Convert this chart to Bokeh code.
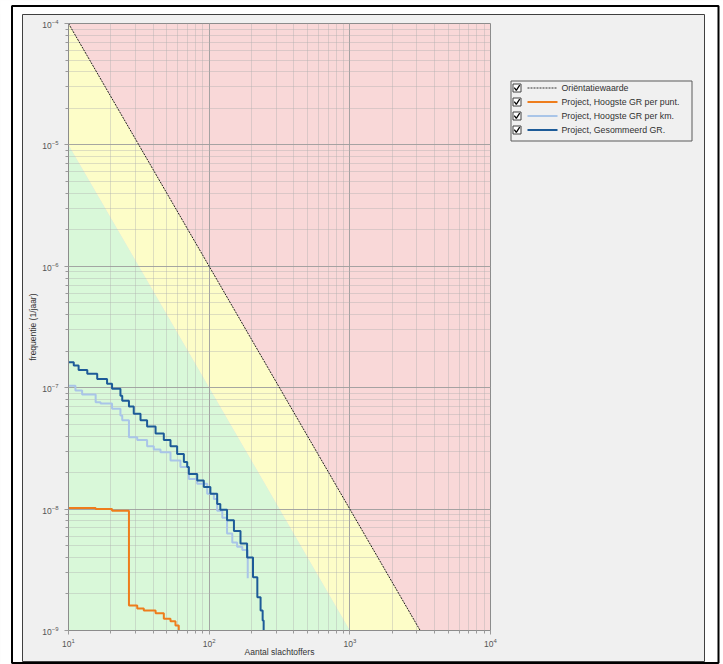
import numpy as np
from bokeh.plotting import figure
from bokeh.models import Range1d, LinearScale, LogTicker
from bokeh.core.properties import value
from bokeh.embed import file_html
from bokeh.resources import INLINE

# ---------------- data ----------------
N_MIN, N_MAX = 10, 1e4          # aantal slachtoffers (x range)
F_MIN, F_MAX = 1e-9, 1e-4       # frequentie (y range)
ORIENT_C = 1e-2                 # oriëntatiewaarde: F = 1e-2 / N^2
LOWER_C = 1e-3                  # ondergrens gele zone: F = 1e-3 / N^2

# Project, Hoogste GR per punt (orange)
punt_N = [10, 15.6, 20.4, 26.9, 30.8, 34.3, 41.6, 47.6, 53.1, 57.6, 60.8]
punt_F = [1.02e-8, 1.0e-8, 9.7e-9, 1.61e-9, 1.52e-9, 1.46e-9, 1.39e-9, 1.25e-9, 1.19e-9, 1.10e-9, 8e-10]

# Project, Hoogste GR per km (light blue)
km_N = [10, 11.2, 12.5, 15.6, 16.9, 20.4, 23.4, 24.1, 26.9, 30.8, 36.2, 40.4, 45.1, 53.1,
        62.5, 71.7, 82.2, 96.8, 108, 114, 124, 134, 146, 158, 172, 188]
km_F = [1.04e-7, 9.5e-8, 8.8e-8, 7.6e-8, 7.4e-8, 6.7e-8, 5.9e-8, 5.4e-8, 3.9e-8, 3.7e-8, 3.3e-8,
        3.1e-8, 2.94e-8, 2.51e-8, 2.22e-8, 1.77e-8, 1.62e-8, 1.34e-8, 1.21e-8, 9.7e-9, 8.5e-9,
        6.3e-9, 5.3e-9, 4.9e-9, 4.6e-9, 2.7e-9]

# Project, Gesommeerd GR (dark blue)
som_N = [10, 10.9, 11.8, 13.6, 16.0, 18.8, 20.4, 23.4, 24.1, 26.9, 29.1, 32.5, 36.2, 41.6, 47.6,
         53.1, 59.2, 66.1, 69.8, 71.7, 82.2, 91.6, 102, 114, 120, 134, 150, 167, 186, 205, 220,
         232, 240, 244]
som_F = [1.62e-7, 1.52e-7, 1.40e-7, 1.30e-7, 1.18e-7, 1.08e-7, 9.8e-8, 8.6e-8, 7.8e-8, 7.0e-8,
         6.1e-8, 5.4e-8, 4.8e-8, 4.2e-8, 3.7e-8, 3.3e-8, 2.85e-8, 2.44e-8, 2.22e-8, 1.95e-8,
         1.72e-8, 1.52e-8, 1.34e-8, 1.10e-8, 9.9e-9, 8.1e-9, 6.6e-9, 5.2e-9, 4.0e-9, 2.75e-9,
         1.88e-9, 1.46e-9, 1.21e-9, 5e-10]

legend_labels = ["Oriëntatiewaarde", "Project, Hoogste GR per punt.",
                 "Project, Hoogste GR per km.", "Project, Gesommeerd GR."]

# ---------------- styles ----------------
FONT = "Liberation Sans"
C_RED, C_YEL, C_GRN = "#f9d8d8", "#fdfdc8", "#d9f8d9"
C_ORANGE, C_LIGHT, C_DARK = "#ee7d1c", "#a9c5e8", "#1d5b98"
legend_colors = ["#303030", C_ORANGE, C_LIGHT, C_DARK]
legend_dash = ["2 1", "solid", "solid", "solid"]

p = figure(width=723, height=664, x_axis_type="log", y_axis_type="log",
           x_range=Range1d(N_MIN, N_MAX), y_range=Range1d(F_MIN, F_MAX),
           output_backend="svg", toolbar_location=None,
           min_border_left=68, min_border_right=233, min_border_top=23, min_border_bottom=34,
           background_fill_color=C_RED, border_fill_color="#f0f0f0",
           outline_line_color="#8c8c8c")

# pixel helper ranges for decorations outside the frame
p.extra_x_ranges = {"px": Range1d(68, 490)}
p.extra_y_ranges = {"py": Range1d(630, 23)}
p.extra_x_scales = {"px": LinearScale()}
p.extra_y_scales = {"py": LinearScale()}

# zones
n_orient_end = np.sqrt(ORIENT_C / F_MIN)
n_lower_end = np.sqrt(LOWER_C / F_MIN)
p.patch([N_MIN, n_orient_end, n_lower_end, N_MIN],
        [ORIENT_C / N_MIN**2, F_MIN, F_MIN, LOWER_C / N_MIN**2],
        fill_color=C_YEL, line_color=None, level="image")
p.patch([N_MIN, n_lower_end, N_MIN],
        [LOWER_C / N_MIN**2, F_MIN, F_MIN],
        fill_color=C_GRN, line_color=None, level="image")

# grid
p.grid.grid_line_color = "#9a9a9a"
p.grid.grid_line_alpha = 0.75
p.grid.minor_grid_line_color = "#b0b0b0"
p.grid.minor_grid_line_alpha = 0.4

# axes
for ax in (p.xaxis, p.yaxis):
    ax.ticker = LogTicker(num_minor_ticks=10)
for ax in p.axis:
    ax.axis_line_color = "#8c8c8c"
    ax.major_tick_in = 0
    ax.major_tick_out = 4
    ax.minor_tick_in = 0
    ax.minor_tick_out = 3
    ax.major_tick_line_color = "#9a9a9a"
    ax.minor_tick_line_color = "#9a9a9a"
    ax.major_label_text_font = FONT
    ax.major_label_text_font_size = "8.5px"
    ax.major_label_text_color = "#555555"
    ax.axis_label_text_font = FONT
    ax.axis_label_text_font_size = "8.5px"
    ax.axis_label_text_font_style = "normal"
    ax.axis_label_text_color = "#333333"
p.xaxis.axis_label = "Aantal slachtoffers"
p.yaxis.axis_label = "frequentie (1/jaar)"
p.xaxis.major_label_standoff = 3
p.xaxis.axis_label_standoff = -3
p.yaxis.major_label_standoff = 6
p.yaxis.axis_label_standoff = 1

# orientation line
p.line([N_MIN, n_orient_end], [ORIENT_C / N_MIN**2, F_MIN],
       line_color="#202020", line_dash="2 1", line_width=1)

# curves
p.step(km_N, km_F, mode="after", line_color=C_LIGHT, line_width=2)
p.step(som_N, som_F, mode="after", line_color=C_DARK, line_width=2)
p.step(punt_N, punt_F, mode="after", line_color=C_ORANGE, line_width=2)

# ---------------- decorations outside the frame (pixel units) ----------------
kw = dict(x_range_name="px", y_range_name="py", level="overlay")
# white margins between outer and inner frame
p.quad(left=[0, 704, 0, 0], right=[22, 723, 723, 723], top=[0, 0, 0, 661],
       bottom=[664, 664, 14, 664], fill_color="white", line_color=None, **kw)
# outer black frame and inner frame
p.quad(left=[11.5], right=[718], top=[5.5], bottom=[662.5],
       fill_color=None, line_color="black", line_width=2, **kw)
p.quad(left=[22], right=[704], top=[14], bottom=[661],
       fill_color=None, line_color="#404040", line_width=1, **kw)

# legend box
p.quad(left=[510.5], right=[691.5], top=[80.5], bottom=[140.5],
       fill_color=None, line_color="#5a5a5a", line_width=1, **kw)
rows = [87.5, 101.5, 115.5, 129.5]
for y, lab, col, dash in zip(rows, legend_labels, legend_colors, legend_dash):
    # checkbox
    p.quad(left=[512.5], right=[520.5], top=[y - 4], bottom=[y + 4],
           fill_color="white", line_color="#404040", line_width=1, **kw)
    p.line([513.8, 515.8, 519.2], [y - 0.3, y + 2.3, y - 2.8],
           line_color="black", line_width=1.3, **kw)
    # line sample
    p.line([527, 557], [y, y], line_color=col, line_width=1 if dash != "solid" else 2,
           line_dash=dash, **kw)
    p.text([561], [y], text=[lab], text_font=value(FONT), text_font_size="8.8px",
           text_color="#303030", text_baseline="middle", **kw)

open("out.html", "w").write(file_html(p, INLINE))
